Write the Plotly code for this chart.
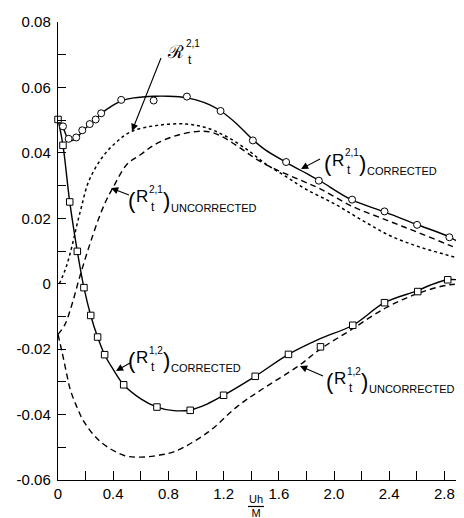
import plotly.graph_objects as go

# ---------------- data ----------------
# (R_t^{2,1}) corrected : solid curve + circles
r21c_x = [0, 0.036, 0.07, 0.1, 0.132, 0.176, 0.23, 0.273, 0.313, 0.4, 0.46, 0.55, 0.7, 0.8,
          0.93, 1.0, 1.1, 1.18, 1.3, 1.41, 1.5, 1.65, 1.8, 1.9, 2.13, 2.37, 2.6, 2.84, 3.0]
r21c_y = [0.0502, 0.0478, 0.0445, 0.0438, 0.0443, 0.0466, 0.0487, 0.0502, 0.052, 0.0546, 0.0559,
          0.0568, 0.0573, 0.0573, 0.0569, 0.0562, 0.0547, 0.0528, 0.0487, 0.0441, 0.041, 0.0372,
          0.0337, 0.0314, 0.0256, 0.0219, 0.0181, 0.0142, 0.0102]
r21_circ_x = [0.036, 0.077, 0.132, 0.176, 0.23, 0.273, 0.313, 0.458, 0.693, 0.934, 1.178,
              1.412, 1.653, 1.89, 2.131, 2.366, 2.602, 2.836]
r21_circ_y = [0.0481, 0.0443, 0.0447, 0.0469, 0.0488, 0.0502, 0.0521, 0.0562, 0.056, 0.0572,
              0.0528, 0.0438, 0.0372, 0.0315, 0.0257, 0.0221, 0.018, 0.0142]

# (R_t^{2,1}) uncorrected : dashed
r21u_x = [0, 0.05, 0.1, 0.15, 0.2, 0.25, 0.3, 0.35, 0.4, 0.5, 0.6, 0.7, 0.85, 1.0, 1.1, 1.2,
          1.33, 1.45, 1.6, 1.75, 1.9, 2.13, 2.39, 2.6, 2.84, 3.0]
r21u_y = [-0.0155, -0.0125, -0.0065, 0.001, 0.008, 0.0145, 0.0205, 0.0255, 0.0295, 0.0365,
          0.0395, 0.0425, 0.0452, 0.0465, 0.0464, 0.0447, 0.0412, 0.0378, 0.0345, 0.0318,
          0.029, 0.0237, 0.0193, 0.0158, 0.0117, 0.0088]

# script R_t^{2,1} : dotted
r21s_x = [0.01, 0.05, 0.08, 0.11, 0.14, 0.17, 0.22, 0.31, 0.41, 0.53, 0.72, 0.93, 1.08, 1.22,
          1.37, 1.5, 1.65, 1.8, 2.0, 2.2, 2.4, 2.6, 2.8, 3.0]
r21s_y = [0.0, 0.004, 0.008, 0.013, 0.0185, 0.0235, 0.031, 0.038, 0.0428, 0.0465, 0.0484,
          0.0488, 0.0476, 0.045, 0.041, 0.0368, 0.0328, 0.0288, 0.0245, 0.0195, 0.0148,
          0.0115, 0.009, 0.0066]

# (R_t^{1,2}) corrected : solid curve + squares
r12c_x = [0, 0.036, 0.085, 0.14, 0.188, 0.237, 0.287, 0.338, 0.4, 0.476, 0.6, 0.717, 0.84,
          0.958, 1.08, 1.2, 1.429, 1.67, 1.9, 2.136, 2.366, 2.6, 2.7, 2.824, 2.9, 3.0]
r12c_y = [0.0502, 0.0423, 0.025, 0.0099, -0.0012, -0.0097, -0.0163, -0.0217, -0.0262,
          -0.0309, -0.0352, -0.0377, -0.0388, -0.0386, -0.0368, -0.0341, -0.0283, -0.0216,
          -0.0168, -0.0127, -0.0058, -0.0022, -0.0004, 0.0012, 0.0012, 0.0008]
r12_sq_x = [0, 0.036, 0.085, 0.14, 0.188, 0.237, 0.287, 0.338, 0.476, 0.717, 0.958, 1.2,
            1.429, 1.67, 1.902, 2.136, 2.366, 2.607, 2.824]
r12_sq_y = [0.0502, 0.0423, 0.025, 0.0099, -0.0012, -0.0097, -0.0163, -0.0217, -0.0309,
            -0.0377, -0.0387, -0.0341, -0.0283, -0.0216, -0.0193, -0.0127, -0.0058, -0.0024,
            0.0012]

# (R_t^{1,2}) uncorrected : dashed
r12u_x = [0, 0.03, 0.06, 0.09, 0.14, 0.19, 0.31, 0.48, 0.6, 0.72, 0.85, 1.09, 1.3, 1.47,
          1.74, 1.9, 2.12, 2.37, 2.6, 2.84, 3.0]
r12u_y = [-0.0155, -0.021, -0.027, -0.0325, -0.038, -0.0423, -0.0484, -0.0525, -0.053,
          -0.0525, -0.0512, -0.0453, -0.0375, -0.0325, -0.0252, -0.0200, -0.0142, -0.0075,
          -0.0031, -0.0003, -0.0003]

# axis ticks
x_tick_vals = [0, 0.4, 0.8, 1.2, 1.6, 2.0, 2.4, 2.8]
x_tick_text = ["0", "0.4", "0.8", "1.2", "1.6", "2.0", "2.4", "2.8"]
x_minor_vals = [0.2, 0.6, 1.0, 1.4, 1.8, 2.2, 2.6]
y_tick_vals = [-0.06, -0.04, -0.02, 0, 0.02, 0.04, 0.06, 0.08]
y_tick_text = ["-0.06", "-0.04", "-0.02", "0", "0.02", "0.04", "0.06", "0.08"]
y_minor_vals = [-0.05, -0.03, -0.01, 0.01, 0.03, 0.05, 0.07]

# ---------------- figure ----------------
W, H = 464, 518
ML, MR, MT, MB = 50, 0, 14, 46
FONT = "Liberation Sans"
BLK = "black"

fig = go.Figure()
line_w = 1.4

fig.add_trace(go.Scatter(x=r21s_x, y=r21s_y, mode="lines",
                         line=dict(color=BLK, width=1.5, dash="dot", shape="spline")))
fig.add_trace(go.Scatter(x=r21u_x, y=r21u_y, mode="lines",
                         line=dict(color=BLK, width=line_w, dash="6px,4px", shape="spline")))
fig.add_trace(go.Scatter(x=r12u_x, y=r12u_y, mode="lines",
                         line=dict(color=BLK, width=line_w, dash="6px,4px", shape="spline")))
fig.add_trace(go.Scatter(x=r21c_x, y=r21c_y, mode="lines",
                         line=dict(color=BLK, width=line_w, shape="spline")))
fig.add_trace(go.Scatter(x=r12c_x, y=r12c_y, mode="lines",
                         line=dict(color=BLK, width=line_w, shape="spline")))
fig.add_trace(go.Scatter(x=r21_circ_x, y=r21_circ_y, mode="markers", cliponaxis=False,
                         marker=dict(symbol="circle", size=7, color="white",
                                     line=dict(color=BLK, width=1))))
fig.add_trace(go.Scatter(x=r12_sq_x, y=r12_sq_y, mode="markers", cliponaxis=False,
                         marker=dict(symbol="square", size=6.5, color="white",
                                     line=dict(color=BLK, width=1))))

PW = W - ML - MR
PH = H - MT - MB


def P(px, py):
    """pixel position in the page -> paper coordinates"""
    return (px - ML) / PW, (H - MB - py) / PH


annotations = []
shapes = []


def txt(px, py, s, size, xanchor="left"):
    x, y = P(px, py)
    annotations.append(dict(x=x, y=y, xref="paper", yref="paper", text=s, showarrow=False,
                            xanchor=xanchor, yanchor="middle", borderwidth=0, borderpad=0,
                            font=dict(family=FONT, size=size, color=BLK)))


def label(X, Y, sup, word):
    txt(X - 2, Y, "(", 22)
    txt(X + 6, Y - 3, "R", 17)
    txt(X + 19, Y - 10, sup, 10)
    txt(X + 23, Y + 7, "t", 12, xanchor="center")
    txt(X + 33, Y, ")", 22)
    txt(X + 41, Y + 8, word, 11)


def arrow(tx, ty, hx, hy):
    x, y = P(hx, hy)
    annotations.append(dict(x=x, y=y, xref="paper", yref="paper", text="", showarrow=True,
                            ax=tx - hx, ay=ty - hy, axref="pixel", ayref="pixel",
                            borderwidth=0, borderpad=0,
                            arrowhead=2, arrowsize=1.3, arrowwidth=1.1, arrowcolor=BLK,
                            standoff=0, startstandoff=0))


# script R label
txt(159, 44, "ℛ", 18)
txt(178, 35, "2,1", 10)
txt(182, 52, "t", 12, xanchor="center")
arrow(153, 50, 124, 123)

label(122, 192, "2,1", "UNCORRECTED")
arrow(121, 187, 103, 180)

label(318, 155, "2,1", "CORRECTED")
arrow(312, 151, 293, 161)

label(122, 352, "1,2", "CORRECTED")
arrow(122, 355, 108, 363)

label(320, 373, "1,2", "UNCORRECTED")
arrow(315, 368, 292, 358)

# x-axis title  Uh / M  (one two-line text with a fraction bar between the lines)
txt(248, 498, "Uh<br>M", 11, xanchor="center")
x0, y0 = P(240, 498.5)
x1, _ = P(256, 498.5)
shapes.append(dict(type="line", xref="paper", yref="paper", x0=x0, x1=x1, y0=y0, y1=y0,
                   line=dict(color=BLK, width=1.2)))

fig.update_layout(
    width=W, height=H,
    margin=dict(l=ML, r=MR, t=MT, b=MB, pad=0, autoexpand=False),
    paper_bgcolor="white", plot_bgcolor="white",
    showlegend=False,
    font=dict(family=FONT, color=BLK, size=15),
    annotations=annotations, shapes=shapes,
    xaxis=dict(range=[0, 3.0], automargin=False, showgrid=False, zeroline=False,
               showline=True, linecolor=BLK, linewidth=1.4, ticks="inside", ticklen=9,
               tickwidth=1.2, tickcolor=BLK, tickmode="array", tickvals=x_tick_vals,
               ticktext=x_tick_text, tickfont=dict(family=FONT, size=15, color=BLK),
               minor=dict(tickmode="array", tickvals=x_minor_vals, ticks="inside",
                          ticklen=9, tickwidth=1.2, tickcolor=BLK, showgrid=False)),
    yaxis=dict(range=[-0.06, 0.08], automargin=False, showgrid=False, zeroline=False,
               showline=True, linecolor=BLK, linewidth=1.4, ticks="inside", ticklen=8,
               tickwidth=1.2, tickcolor=BLK, tickmode="array", tickvals=y_tick_vals,
               ticktext=y_tick_text, tickfont=dict(family=FONT, size=15, color=BLK),
               ticklabelstandoff=3,
               minor=dict(tickmode="array", tickvals=y_minor_vals, ticks="inside",
                          ticklen=8, tickwidth=1.2, tickcolor=BLK, showgrid=False)),
)

fig.write_html("out.html")
